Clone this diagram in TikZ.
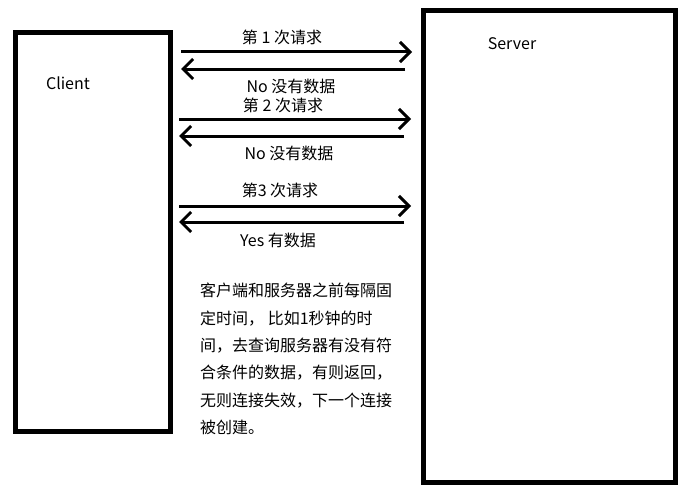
\documentclass[tikz,border=0pt]{standalone}
\usepackage{fontspec}
\setmainfont{Noto Sans CJK SC}
\usetikzlibrary{arrows.meta}

\begin{document}
\begin{tikzpicture}[x=1pt, y=-1pt,
    box/.style={draw, line width=5pt, inner sep=0pt},
    msg/.style={line width=3pt, -{Straight Barb[length=10pt, width=20pt]}},
    lbl/.style={font=\fontsize{16}{18}\selectfont, inner sep=0pt}]
    \useasboundingbox (0,0) rectangle (690,503);

    % Define boxes
    \node[box, minimum width=154.5pt, minimum height=398.5pt] (client) at (92.75,231.75) {};
    \node[box, minimum width=252pt, minimum height=471.5pt] (server) at (549,246.25) {};
    \node[lbl] (clientname) at (68,83) {Client};
    \node[lbl] (servername) at (512,44) {Server};

    % Arrow ends
    \coordinate (c1) at (181,52);  \coordinate (s1) at (412,52);
    \coordinate (s1b) at (405,69); \coordinate (c1b) at (181,69);
    \coordinate (c2) at (179,119); \coordinate (s2) at (411,119);
    \coordinate (s2b) at (404,136); \coordinate (c2b) at (179,136);
    \coordinate (c3) at (179,206); \coordinate (s3) at (411,206);
    \coordinate (s3b) at (404,222); \coordinate (c3b) at (179,222);

    % Draw requests and replies
    \draw[msg] (c1) -- (s1);
    \draw[msg] (s1b) -- (c1b);
    \draw[msg] (c2) -- (s2);
    \draw[msg] (s2b) -- (c2b);
    \draw[msg] (c3) -- (s3);
    \draw[msg] (s3b) -- (c3b);

    % Labels
    \node[lbl] (req1) at (282,37) {第 1 次请求};
    \node[lbl] (rep1) at (291,86) {No 没有数据};
    \node[lbl] (req2) at (283,105) {第 2 次请求};
    \node[lbl] (rep2) at (289,153) {No 没有数据};
    \node[lbl] (req3) at (280,190) {第3 次请求};
    \node[lbl] (rep3) at (278,240) {Yes 有数据};

    \node[anchor=north west, inner sep=0pt, align=left,
          font=\fontsize{16}{27.4}\selectfont] (note) at (200,283)
      {客户端和服务器之前每隔固\\
       定时间， 比如1秒钟的时\\
       间，去查询服务器有没有符\\
       合条件的数据，有则返回，\\
       无则连接失效，下一个连接\\
       被创建。};
\end{tikzpicture}
\end{document}
